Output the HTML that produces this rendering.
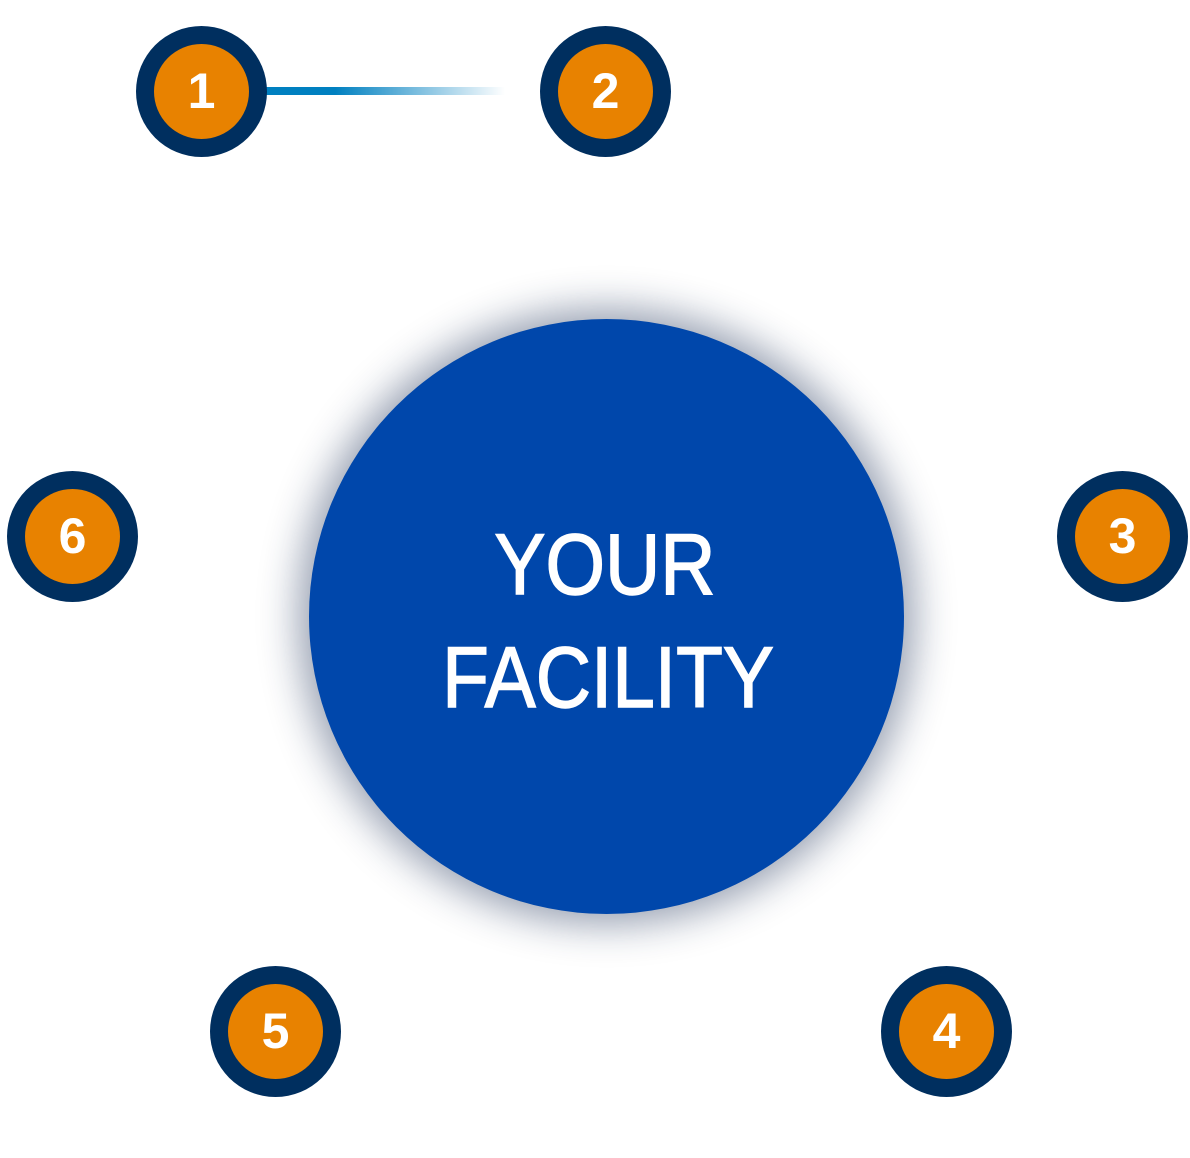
<!DOCTYPE html>
<html><head><meta charset="utf-8"><style>
html,body{margin:0;padding:0;background:#fff;width:1190px;height:1158px;overflow:hidden;position:relative;font-family:"Liberation Sans",sans-serif}
.n{position:absolute;width:131px;height:131px;border-radius:50%;background:#002f5f;}
.n div{position:absolute;left:18px;top:18px;width:95px;height:95px;border-radius:50%;background:#e88200;color:#fff;font-weight:bold;font-size:50px;line-height:95px;text-align:center}
.main{position:absolute;left:309px;top:319px;width:595px;height:595px;border-radius:50%;background:#0047ab;box-shadow:0 0 40px 10px rgba(20,40,80,0.45)}
.t{position:absolute;left:10px;width:1190px;text-align:center;color:#fff;font-size:86px;line-height:1;transform:scaleX(0.89);-webkit-text-stroke:1.5px #fff}
</style></head><body>
<div style="position:absolute;left:262px;top:87px;width:243px;height:8px;background:linear-gradient(to right,#0080c0 0%,#0080c0 30%,rgba(0,128,192,0) 100%)"></div>
<div class="n" style="left:136px;top:26px"><div>1</div></div>
<div class="n" style="left:540px;top:26px"><div>2</div></div>
<div class="n" style="left:1057px;top:471px"><div>3</div></div>
<div class="n" style="left:881px;top:966px"><div>4</div></div>
<div class="n" style="left:210px;top:966px"><div>5</div></div>
<div class="n" style="left:7px;top:471px"><div>6</div></div>
<div class="main"></div>
<div class="t" style="top:522px">YOUR</div>
<div class="t" style="top:635px;left:13px">FACILITY</div>
</body></html>
